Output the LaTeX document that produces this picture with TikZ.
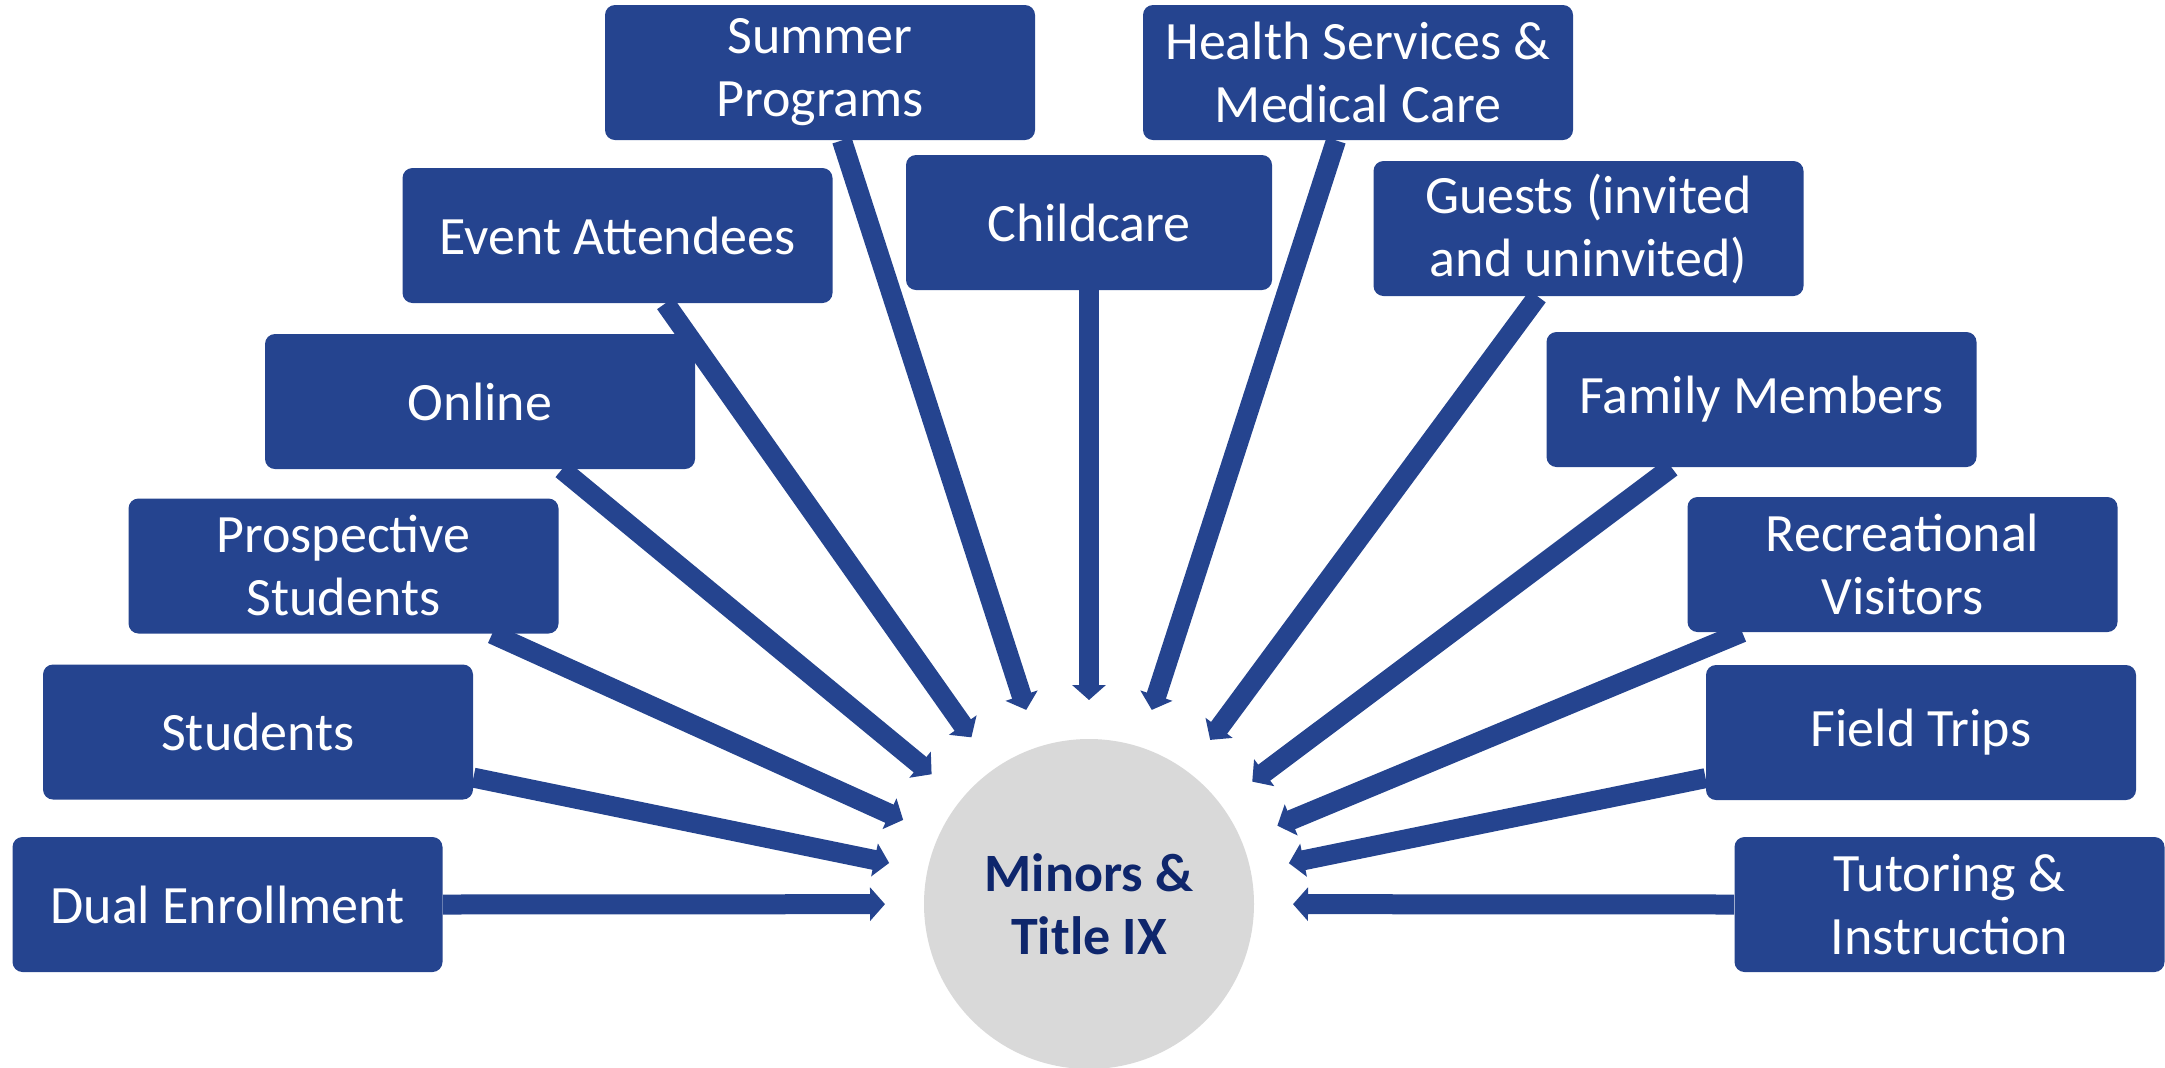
\documentclass[tikz,border=0pt]{standalone}
\usepackage{fontspec}
\setmainfont{Carlito}
\usetikzlibrary{arrows.meta,calc}
\pgfdeclarelayer{bg}
\pgfsetlayers{bg,main}
\definecolor{boxblue}{RGB}{37,68,143}
\definecolor{navy}{RGB}{14,38,108}
\definecolor{circgray}{RGB}{217,217,217}
\begin{document}
\begin{tikzpicture}[x=0.5pt,y=-0.5pt,
  box/.style={rectangle, rounded corners=5pt, fill=boxblue, text=white,
    minimum width=215pt, minimum height=67.5pt, align=center, inner sep=0pt,
    font=\fontsize{27}{31.5}\selectfont},
  arr/.style={draw=boxblue, line width=10pt,
    -{Triangle[length=7.5pt,width=16.5pt]}}]
\useasboundingbox (0,0) rectangle (2165,1067);

\node[circle, fill=circgray, minimum size=165pt, inner sep=0pt, text=navy,
  align=center, font=\fontsize{27}{31.5}\selectfont\bfseries] (c) at (1089,904)
  {Minors \&\\Title IX};

\node[box] (sum) at (820,72.5) {Summer\\Programs};
\node[box] (hea) at (1358,72.5) {Health Services \&\\Medical Care};
\node[box] (eve) at (617.5,235.5) {Event Attendees};
\node[box, minimum width=183pt] (chi) at (1089,222.5) {Childcare};
\node[box] (gue) at (1588.5,228.5) {Guests (invited\\and uninvited)};
\node[box] (onl) at (480,401.5) {Online};
\node[box] (fam) at (1761.5,399.5) {Family Members};
\node[box] (pro) at (343.5,566) {Prospective\\Students};
\node[box] (rec) at (1902.5,564.5) {Recreational\\Visitors};
\node[box] (stu) at (258,732) {Students};
\node[box] (fie) at (1921,732.5) {Field Trips};
\node[box] (dua) at (227.5,904.5) {Dual Enrollment};
\node[box] (tut) at (1949.5,904.5) {Tutoring \&\\Instruction};

\coordinate (s1) at ($(sum.south west)!0.551!(sum.south east)$);
\coordinate (s2) at ($(hea.south west)!0.449!(hea.south east)$);
\coordinate (s3) at ($(eve.south west)!0.611!(eve.south east)$);
\coordinate (s4) at (chi.south);
\coordinate (s5) at ($(gue.south west)!0.382!(gue.south east)$);
\coordinate (s6) at ($(onl.south west)!0.69!(onl.south east)$);
\coordinate (s7) at ($(fam.south west)!0.291!(fam.south east)$);
\coordinate (s8) at ($(pro.south west)!0.845!(pro.south east)$);
\coordinate (s9) at ($(rec.south west)!0.128!(rec.south east)$);
\coordinate (s10) at ($(stu.north east)!0.836!(stu.south east)$);
\coordinate (s11) at ($(fie.north west)!0.836!(fie.south west)$);
\coordinate (s12) at (dua.east);
\coordinate (s13) at (tut.west);

\begin{pgfonlayer}{bg}
\foreach \s in {s1,s2,s3,s4,s5,s6,s7,s8,s9,s10,s11,s12,s13}
  \draw[arr] (\s) -- ($(c)!102pt!(\s)$);
\end{pgfonlayer}
\end{tikzpicture}
\end{document}
